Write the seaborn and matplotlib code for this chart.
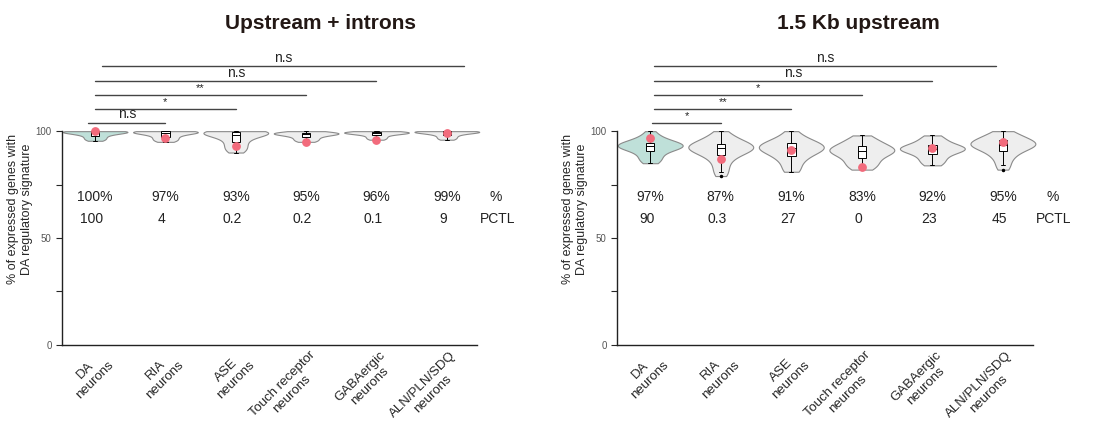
import numpy as np
import pandas as pd
import seaborn as sns
import matplotlib.pyplot as plt
from matplotlib.transforms import ScaledTranslation

# Data
groups = ['DA\nneurons', 'RIA\nneurons', 'ASE\nneurons', 'Touch receptor\nneurons',
          'GABAergic\nneurons', 'ALN/PLN/SDQ\nneurons']
panels = ['Upstream + introns', '1.5 Kb upstream']

# per-gene values (approximate)
samples_introns = [
    [100, 100, 100, 100, 100, 100, 99.8, 99.5, 99.5, 99, 99, 98.8, 98.5, 98, 97.5, 97, 96.5, 96, 95.5],
    [100, 100, 100, 100, 100, 99.8, 99.5, 99.5, 99.2, 99, 98.8, 98.5, 98, 97.5, 97, 96.5, 96, 95.5, 95],
    [100, 100, 100, 100, 99.8, 99.5, 99.5, 99, 99, 98.5, 98, 97.5, 97, 96, 95, 94, 93, 92, 91, 90],
    [100, 99.8, 99.5, 99.3, 99.2, 99, 99, 98.8, 98.6, 98.5, 98.2, 98, 97.5, 97, 96.5, 96, 95.5, 95],
    [100, 100, 99.8, 99.7, 99.5, 99.4, 99.3, 99.2, 99, 99, 98.8, 98.5, 98, 97.5, 97, 96.5, 96],
    [100, 100, 100, 100, 99.9, 99.8, 99.7, 99.6, 99.5, 99.3, 99, 98.8, 98.5, 98, 97.5, 97, 96.5, 96],
]
samples_upstream = [
    [100, 98, 97, 96, 95.5, 95, 94.5, 94, 94, 93.5, 93.5, 93, 93, 92.5, 92, 92, 91.5, 91, 90, 89, 88, 87, 86, 85],
    [100, 98, 97, 96, 95, 94.5, 94, 93.5, 93, 93, 92.5, 92, 92, 91.5, 91, 90.5, 90, 89, 88, 87, 85, 83, 81, 79],
    [100, 98, 96.5, 95.5, 95, 94.5, 94, 93.5, 93, 92.5, 92, 92, 91.5, 91, 90.5, 90, 89, 88, 87, 86, 84, 82, 81],
    [98, 96.5, 95.5, 94.5, 94, 93, 92.5, 92, 91.5, 91, 91, 90.5, 90, 89.5, 89, 88, 87, 86, 85, 84, 83, 82],
    [98, 97, 96, 95, 94, 93.5, 93, 92.5, 92, 92, 92, 91.5, 91, 91, 90.5, 90, 89, 88, 87, 86, 85, 84],
    [100, 99, 98, 97, 96.5, 96, 95.5, 95, 94.5, 94, 94, 93.5, 93, 93, 92.5, 92, 91, 90, 89, 88, 86, 84, 82],
]
observed = {
    'Upstream + introns': [100, 97, 93, 95, 96, 99],
    '1.5 Kb upstream': [97, 87, 91, 83, 92, 95],
}
pct_labels = {
    'Upstream + introns': ['100%', '97%', '93%', '95%', '96%', '99%'],
    '1.5 Kb upstream': ['97%', '87%', '91%', '83%', '92%', '95%'],
}
pctl_labels = {
    'Upstream + introns': ['100', '4', '0.2', '0.2', '0.1', '9'],
    '1.5 Kb upstream': ['90', '0.3', '27', '0', '23', '45'],
}
sig_labels = {
    'Upstream + introns': ['n.s', '*', '**', 'n.s', 'n.s'],
    '1.5 Kb upstream': ['*', '**', '*', 'n.s', 'n.s'],
}

rows = []
for panel, samples in zip(panels, [samples_introns, samples_upstream]):
    for g, vals in zip(groups, samples):
        for v in vals:
            rows.append([panel, g, v])
df = pd.DataFrame(rows, columns=['Panel', 'Group', 'Value'])

palette = {g: '#eeeeee' for g in groups}
palette[groups[0]] = '#b9e6dc'

sns.set_style('ticks')
plt.rcParams['font.family'] = ['Liberation Sans', 'DejaVu Sans']

fig = plt.figure(figsize=(10.98, 4.3), dpi=100)
ax_pos = [[0.0565, 0.198, 0.378, 0.497], [0.562, 0.198, 0.379, 0.497]]
title_x = [0.292, 0.782]

sig_y = [104, 110.5, 117, 123.5, 130.5]
sig_start = {'Upstream + introns': [-0.1, 0, 0, 0, 0.1],
             '1.5 Kb upstream': [0.03, 0.06, 0.06, 0.06, 0.06]}
sig_end = {'Upstream + introns': [1, 2, 3, 4, 5.24],
           '1.5 Kb upstream': [1, 2, 3, 4, 4.9]}

for i, panel in enumerate(panels):
    ax = fig.add_axes(ax_pos[i])
    sub = df[df['Panel'] == panel]
    sns.violinplot(data=sub, x='Group', y='Value', hue='Group', palette=palette,
                   order=groups, hue_order=groups, legend=False, inner=None, cut=0,
                   density_norm='width', width=0.92, linecolor='#8a8a8a',
                   linewidth=0.8, bw_adjust=0.9, ax=ax)
    sns.boxplot(data=sub, x='Group', y='Value', order=groups, width=0.12,
                color='white', linecolor='black', linewidth=0.7, fliersize=1.5,
                flierprops=dict(marker='o', markerfacecolor='black',
                                markeredgecolor='black'), ax=ax)
    ax.scatter(range(len(groups)), observed[panel], s=28, color='#f26b7c', zorder=6)

    for art in ax.collections + ax.patches + ax.lines:
        art.set_clip_on(False)

    ax.set_xlim(-0.47, 5.43)
    ax.set_ylim(0, 100)
    ax.set_yticks([0, 25, 50, 75, 100])
    ax.set_yticklabels(['0', '', '50', '', '100'])
    ax.tick_params(axis='y', labelsize=7, labelcolor='#555555', length=4, width=0.8)
    ax.tick_params(axis='x', length=0, labelsize=9.5, pad=3)
    ax.set_xticks(range(len(groups)))
    ax.set_xticklabels(groups, rotation=45, ha='right', rotation_mode='anchor',
                       multialignment='center')
    offset = ScaledTranslation(2 / 72, 0, fig.dpi_scale_trans)
    for lab in ax.get_xticklabels():
        lab.set_transform(lab.get_transform() + offset)
    ax.set_xlabel('')
    ax.set_ylabel('% of expressed genes with\nDA regulatory signature', fontsize=9)
    ax.yaxis.set_label_coords(-0.07, 0.635)
    for s in ['top', 'right']:
        ax.spines[s].set_visible(False)
    for s in ['left', 'bottom']:
        ax.spines[s].set_linewidth(1.0)
        ax.spines[s].set_color('#222222')

    # text rows
    for j in range(len(groups)):
        ax.text(j, 69, pct_labels[panel][j], ha='center', va='center', fontsize=10,
                color='#222222')
        ax.text(j - 0.05, 59, pctl_labels[panel][j], ha='center', va='center',
                fontsize=10, color='#222222')
    ax.text(5.7, 69, '%', ha='center', va='center', fontsize=10, color='#222222',
            clip_on=False)
    ax.text(5.72, 59, 'PCTL', ha='center', va='center', fontsize=10,
            color='#222222', clip_on=False)

    # significance bars
    for k in range(5):
        x0, x1 = sig_start[panel][k], sig_end[panel][k]
        ax.plot([x0, x1], [sig_y[k], sig_y[k]], color='#444444', lw=1, clip_on=False)
        lab = sig_labels[panel][k]
        fs = 10 if lab == 'n.s' else 8
        ax.text((x0 + x1) / 2, sig_y[k] + 0.6, lab, ha='center', va='bottom',
                fontsize=fs, color='#222222', clip_on=False)

    fig.text(title_x[i], 0.945, panel, ha='center', va='center', fontsize=15,
             fontweight='bold', color='#231815')

fig.savefig('out.png', dpi=100)
